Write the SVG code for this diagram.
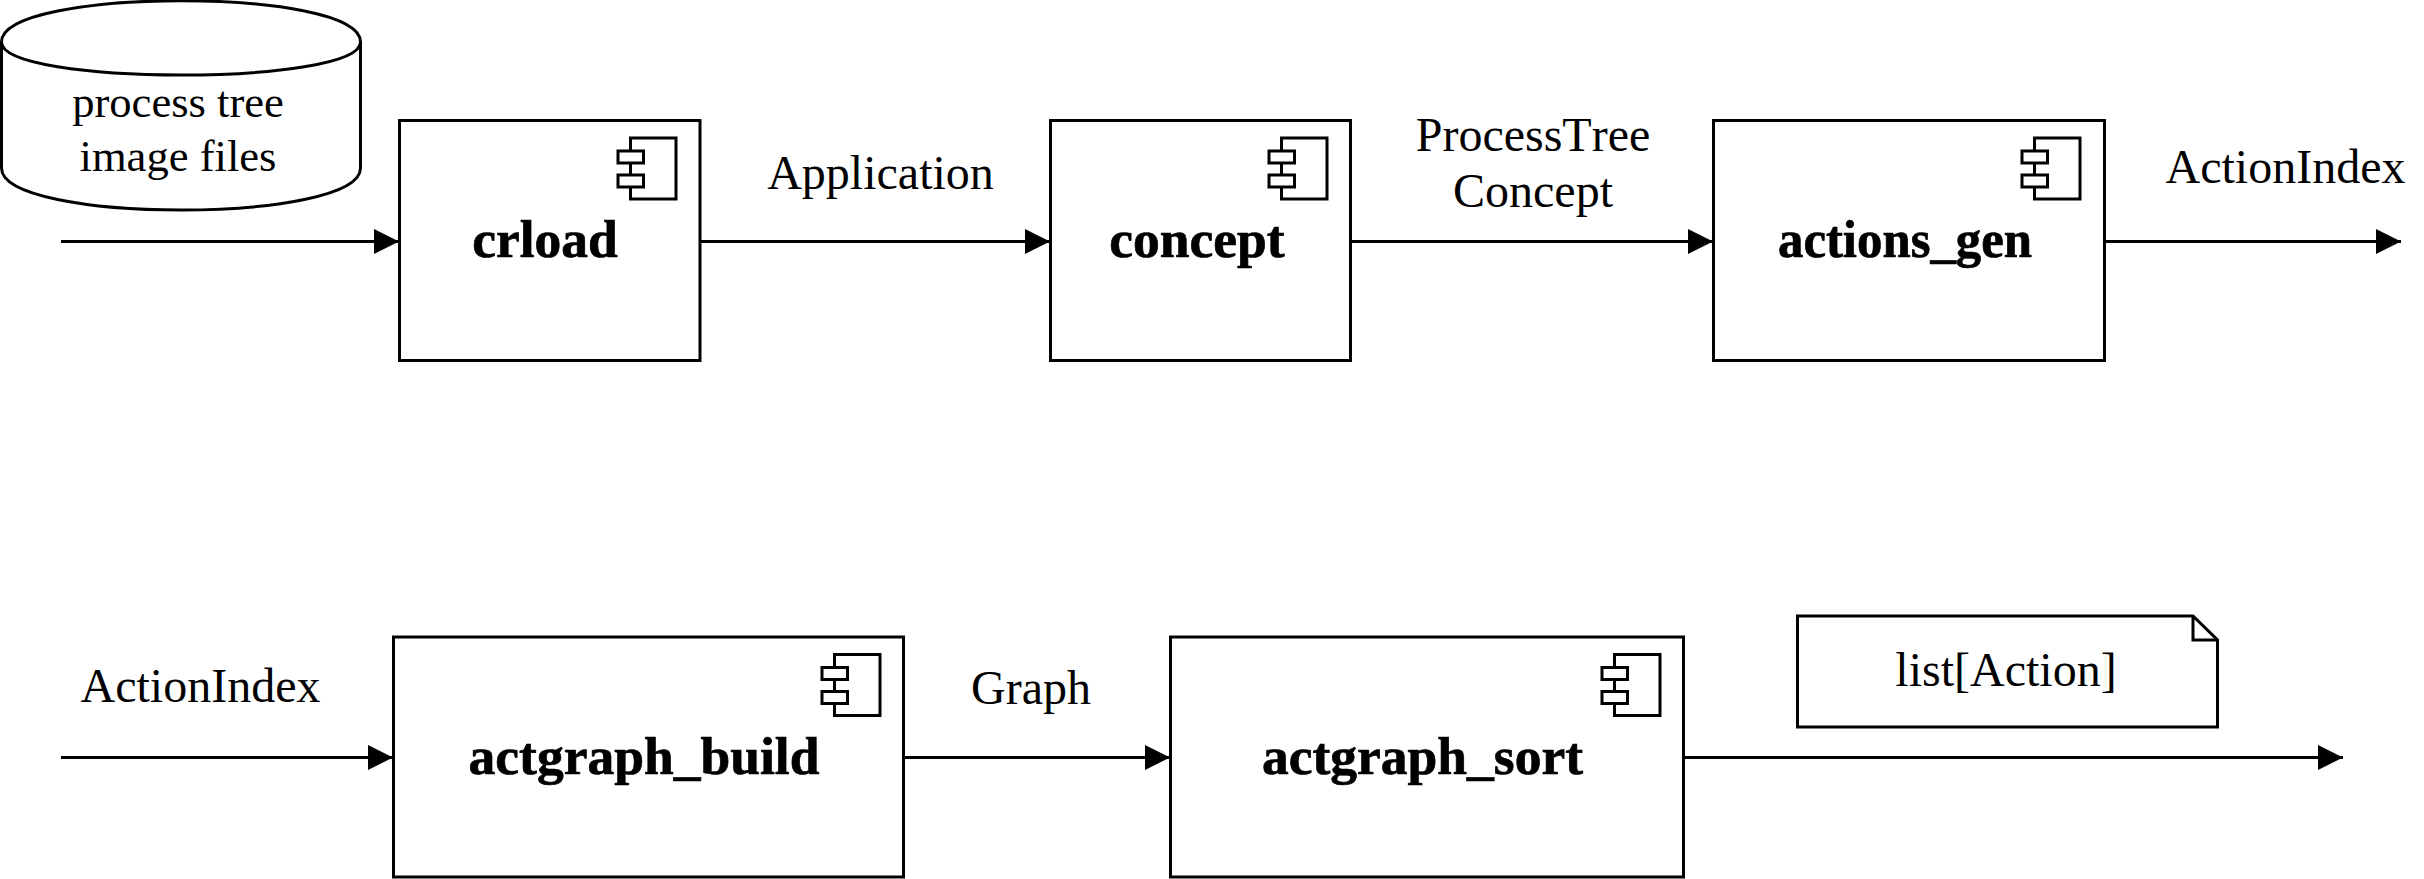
<svg xmlns="http://www.w3.org/2000/svg" width="2424" height="879" viewBox="0 0 2424 879">
<style>
.s{fill:#fff;stroke:#000;stroke-width:3}
.n{fill:none;stroke:#000;stroke-width:3}
.t{font-family:"Liberation Serif","Times New Roman",serif;font-size:48px;text-anchor:middle;fill:#000;font-kerning:none}
.c{font-size:44.600px}
.b{font-size:53.500px;font-weight:bold;stroke:#000;stroke-width:.7}
</style>
<defs>
<marker id="arrow" markerUnits="userSpaceOnUse" markerWidth="26" markerHeight="26" refX="25" refY="13" orient="auto"><path d="M0 0.500L25 13L0 25.500Z" fill="#000"/></marker>
<g id="icon"><rect class="s" x="-69.500" y="18" width="45.500" height="61"/><rect class="s" x="-82" y="31" width="25.500" height="12"/><rect class="s" x="-82" y="55" width="25.500" height="12"/></g>
</defs>
<rect width="2424" height="879" fill="#fff"/>
<g id="connectors">
<line class="n" x1="61" y1="241.500" x2="399" y2="241.500" marker-end="url(#arrow)"/>
<line class="n" x1="700" y1="241.500" x2="1050" y2="241.500" marker-end="url(#arrow)"/>
<line class="n" x1="1350" y1="241.500" x2="1713" y2="241.500" marker-end="url(#arrow)"/>
<line class="n" x1="2104" y1="241.500" x2="2401" y2="241.500" marker-end="url(#arrow)"/>
<line class="n" x1="61" y1="757.500" x2="393" y2="757.500" marker-end="url(#arrow)"/>
<line class="n" x1="903" y1="757.500" x2="1170" y2="757.500" marker-end="url(#arrow)"/>
<line class="n" x1="1683" y1="757.500" x2="2343" y2="757.500" marker-end="url(#arrow)"/>
</g>
<g id="files"><path class="s" d="M1.500 42C1.500 -13 360.500 -13 360.500 42V168C360.500 224 1.500 224 1.500 168Z"/><path class="n" d="M1.500 42C1.500 86 360.500 86 360.500 42"/><text class="t c" x="178" y="117">process tree</text><text class="t c" x="178" y="171">image files</text></g>
<g id="crload"><rect class="s" x="399.500" y="120.500" width="300.500" height="240"/><use href="#icon" transform="translate(700,120)"/><text class="t b" x="545" y="257">crload</text></g>
<g id="concept"><rect class="s" x="1050.500" y="120.500" width="300" height="240"/><use href="#icon" transform="translate(1351,120)"/><text class="t b" x="1197" y="257">concept</text></g>
<g id="actions_gen"><rect class="s" x="1713.500" y="120.500" width="391" height="240"/><use href="#icon" transform="translate(2104,120)"/><text class="t b" x="1905" y="257" textLength="254" lengthAdjust="spacingAndGlyphs">actions_gen</text></g>
<g id="actgraph_build"><rect class="s" x="393.500" y="637" width="510" height="240"/><use href="#icon" transform="translate(904,636.500)"/><text class="t b" x="644" y="773.500">actgraph_build</text></g>
<g id="actgraph_sort"><rect class="s" x="1170.500" y="637" width="513" height="240"/><use href="#icon" transform="translate(1684,636.500)"/><text class="t b" x="1422.500" y="773.500">actgraph_sort</text></g>
<g id="note"><path class="s" d="M1797.500 616H2193L2217.500 640V727H1797.500Z"/><path class="n" d="M2193 616V640H2217.500"/><text class="t" x="2006" y="685.500">list[Action]</text></g>
<g id="labels">
<text class="t" x="880.500" y="188.500">Application</text>
<text class="t" x="1533" y="150.500">ProcessTree</text>
<text class="t" x="1533" y="207">Concept</text>
<text class="t" x="2285.500" y="182.500">ActionIndex</text>
<text class="t" x="200.500" y="702">ActionIndex</text>
<text class="t" x="1031" y="704">Graph</text>
</g>
</svg>
